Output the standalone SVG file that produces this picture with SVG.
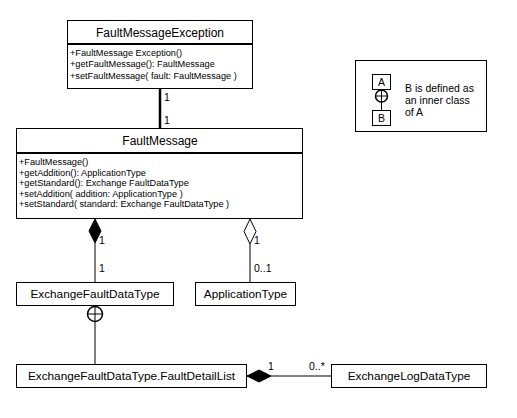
<svg xmlns="http://www.w3.org/2000/svg" width="517" height="418" viewBox="0 0 517 418">
<style>
.box{fill:#fff;stroke:#000;stroke-width:1}
.sep{stroke:#000;stroke-width:2}
.t{font-family:"Liberation Sans",Arial,sans-serif;fill:#000}
.title{font-size:12px;text-anchor:middle}
.name{font-size:11.8px;text-anchor:middle}
.m{font-size:9.2px}
.lbl{font-size:10.5px}
.ln{stroke:#000;stroke-width:1;fill:none}
</style>
<rect width="517" height="418" fill="#fff"/>
<g id="connectors">
<line x1="160" y1="88" x2="160" y2="128" stroke="#000" stroke-width="2.5"/>
<text class="t lbl" x="164" y="101">1</text>
<text class="t lbl" x="164" y="124">1</text>
<line class="ln" x1="95" y1="243" x2="95" y2="282"/>
<polygon points="95,219 101,231 95,243 89,231" fill="#000" stroke="#000"/>
<text class="t lbl" x="99" y="244">1</text>
<text class="t lbl" x="99" y="272">1</text>
<line class="ln" x1="250" y1="244" x2="250" y2="282"/>
<polygon points="250,219 256,231.5 250,244 244,231.5" fill="#fff" stroke="#000"/>
<text class="t lbl" x="254" y="244">1</text>
<text class="t lbl" x="254" y="272">0..1</text>
<circle cx="95" cy="314" r="7.5" fill="#fff" stroke="#000" stroke-width="1.5"/>
<line class="ln" x1="87.5" y1="314" x2="102.5" y2="314"/>
<line class="ln" x1="95" y1="306" x2="95" y2="364"/>
<line class="ln" x1="271" y1="376" x2="331" y2="376"/>
<polygon points="247,376 259,370 271,376 259,382" fill="#000" stroke="#000"/>
<text class="t lbl" x="268" y="370">1</text>
<text class="t lbl" x="309" y="370">0..*</text>
</g>
<g id="FaultMessageException">
<rect class="box" x="67.5" y="20.5" width="185" height="68"/>
<line class="sep" x1="67" y1="44" x2="253" y2="44"/>
<text class="t title" x="160" y="37">FaultMessageException</text>
<text class="t m" x="70" y="56">+FaultMessage Exception()</text>
<text class="t m" x="70" y="67">+getFaultMessage(): FaultMessage</text>
<text class="t m" x="70" y="79">+setFaultMessage( fault: FaultMessage )</text>
</g>
<g id="FaultMessage">
<rect class="box" x="16.5" y="128.5" width="286" height="90"/>
<line class="sep" x1="16" y1="153" x2="303" y2="153"/>
<text class="t title" x="160" y="145">FaultMessage</text>
<text class="t m" x="19" y="165">+FaultMessage()</text>
<text class="t m" x="19" y="175.5">+getAddition(): ApplicationType</text>
<text class="t m" x="19" y="186">+getStandard(): Exchange FaultDataType</text>
<text class="t m" x="19" y="196.5">+setAddition( addition: ApplicationType )</text>
<text class="t m" x="19" y="207">+setStandard( standard: Exchange FaultDataType )</text>
</g>
<g id="ExchangeFaultDataType">
<rect class="box" x="16.5" y="282.5" width="157" height="23"/>
<text class="t name" x="95" y="298">ExchangeFaultDataType</text>
</g>
<g id="ApplicationType">
<rect class="box" x="195.5" y="282.5" width="100" height="23"/>
<text class="t name" x="245.5" y="298">ApplicationType</text>
</g>
<g id="FaultDetailList">
<rect class="box" x="16.5" y="364.5" width="230" height="23"/>
<text class="t name" x="131.5" y="380">ExchangeFaultDataType.FaultDetailList</text>
</g>
<g id="ExchangeLogDataType">
<rect class="box" x="331.5" y="364.5" width="155" height="23"/>
<text class="t name" x="409" y="380">ExchangeLogDataType</text>
</g>
<g id="legend">
<rect class="box" x="355.5" y="60.5" width="131" height="71"/>
<rect class="box" x="372.5" y="74.5" width="18" height="15"/>
<text class="t lbl" x="381.5" y="86" text-anchor="middle">A</text>
<line class="ln" x1="381.5" y1="102" x2="381.5" y2="110"/>
<circle cx="381.5" cy="96" r="6" fill="#fff" stroke="#000" stroke-width="1.5"/>
<line class="ln" x1="375.5" y1="96" x2="387.5" y2="96"/>
<line class="ln" x1="381.5" y1="90" x2="381.5" y2="102"/>
<rect class="box" x="372.5" y="110.5" width="18" height="15"/>
<text class="t lbl" x="381.5" y="122" text-anchor="middle">B</text>
<text class="t lbl" x="405" y="92">B is defined as</text>
<text class="t lbl" x="405" y="104">an inner class</text>
<text class="t lbl" x="405" y="116">of A</text>
</g>
</svg>
